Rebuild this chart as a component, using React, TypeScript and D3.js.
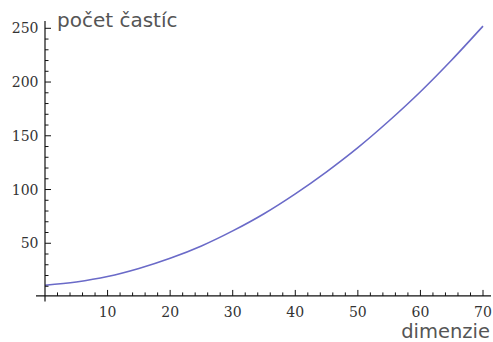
import React from "react";
import * as d3 from "d3";

// Number of particles as a function of dimension
const dimensions = [0, 5, 10, 15, 20, 25, 30, 35, 40, 45, 50, 55, 60, 65, 70];
const particles = [11, 14, 19, 26.5, 36, 47.5, 61.5, 77.5, 96, 116.5, 139, 164, 191, 220.5, 252];

const xMajorTicks = [10, 20, 30, 40, 50, 60, 70];
const yMajorTicks = [50, 100, 150, 200, 250];

const yLabel = "počet častíc";
const xLabel = "dimenzie";

const W = 493;
const H = 342;

export default function App() {
  const x = d3.scaleLinear().domain([0, 70]).range([45, 483]);
  const y = d3.scaleLinear().domain([0, 250]).range([297, 28.3]);
  const axisY = y(1);

  const xMinor = d3.range(0, 71, 2).filter((v) => v % 10 !== 0);
  const yMinor = d3.range(10, 251, 10).filter((v) => v % 50 !== 0);

  const pts: [number, number][] = dimensions.map((d, i) => [d, particles[i]]);
  const line = d3
    .line<[number, number]>()
    .x((d) => x(d[0]))
    .y((d) => y(d[1]))
    .curve(d3.curveMonotoneX);

  const tickFont = "'DejaVu Serif', serif";
  const labelFont = "'DejaVu Sans', sans-serif";

  return (
    <svg
      width={W}
      height={H}
      style={{ position: "absolute", left: 0, top: 0, background: "#fff" }}
    >
      {/* curve */}
      <path d={line(pts) ?? ""} fill="none" stroke="#6a6ac8" strokeWidth={1.6} />

      {/* axes */}
      <line x1={36} x2={491} y1={axisY} y2={axisY} stroke="#111" strokeWidth={1.2} />
      <line x1={x(0)} x2={x(0)} y1={21} y2={301.5} stroke="#111" strokeWidth={1.2} />

      {/* x ticks */}
      {xMinor.map((v) => (
        <line key={"xm" + v} x1={x(v)} x2={x(v)} y1={axisY} y2={axisY - 3.5} stroke="#111" strokeWidth={1} />
      ))}
      {xMajorTicks.map((v) => (
        <g key={"xM" + v}>
          <line x1={x(v)} x2={x(v)} y1={axisY} y2={axisY - 6} stroke="#111" strokeWidth={1} />
          <text
            x={x(v)}
            y={317}
            textAnchor="middle"
            fontFamily={tickFont}
            fontSize={14}
            fill="#333"
          >
            {v}
          </text>
        </g>
      ))}

      {/* y ticks */}
      {yMinor.map((v) => (
        <line key={"ym" + v} x1={x(0)} x2={x(0) + 3.5} y1={y(v)} y2={y(v)} stroke="#111" strokeWidth={1} />
      ))}
      {yMajorTicks.map((v) => (
        <g key={"yM" + v}>
          <line x1={x(0)} x2={x(0) + 6} y1={y(v)} y2={y(v)} stroke="#111" strokeWidth={1} />
          <text
            x={38.5}
            y={y(v)}
            dy="0.36em"
            textAnchor="end"
            fontFamily={tickFont}
            fontSize={14}
            fill="#333"
          >
            {v}
          </text>
        </g>
      ))}

      {/* axis labels */}
      <text x={57} y={26.5} fontFamily={labelFont} fontSize={20} fill="#555">
        {yLabel}
      </text>
      <text x={490} y={337.5} textAnchor="end" fontFamily={labelFont} fontSize={19.5} fill="#555">
        {xLabel}
      </text>
    </svg>
  );
}
